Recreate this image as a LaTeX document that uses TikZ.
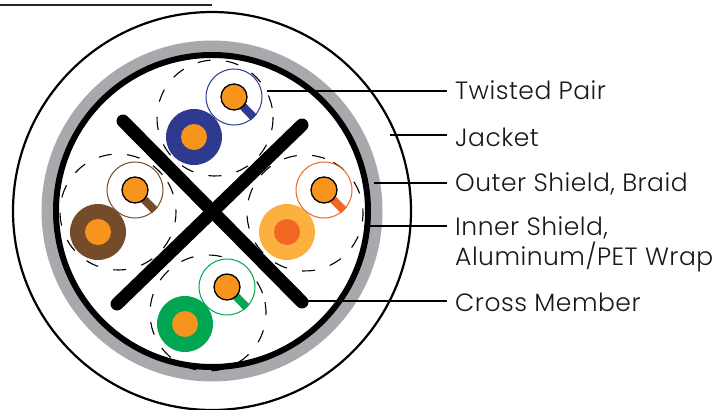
\documentclass[tikz,border=0pt]{standalone}
\usepackage{fontspec}
\setmainfont[LetterSpace=2]{Poppins Light}
\definecolor{pblue}{HTML}{2E3A90}
\definecolor{pbrown}{HTML}{754C29}
\definecolor{pgreen}{HTML}{00A651}
\definecolor{porange}{HTML}{F7941E}
\definecolor{plight}{HTML}{FBB040}
\definecolor{pdark}{HTML}{F26522}
\definecolor{pgray}{HTML}{A7A9AC}
\tikzset{
  ringnode/.style={circle,draw=#1,line width=1pt,fill=white,minimum size=56pt,inner sep=0pt},
  disknode/.style={circle,fill=#1,minimum size=56pt,inner sep=0pt},
  corenode/.style={circle,fill=porange,draw=black,line width=1.3pt,minimum size=26pt,inner sep=0pt},
  innernode/.style={circle,fill=#1,minimum size=26pt,inner sep=0pt},
  dashring/.style={circle,draw=black,line width=1.1pt,dash pattern=on 13pt off 15.5pt,minimum size=116pt,inner sep=0pt},
  tail/.style={draw=#1,line width=8pt},
  leader/.style={draw=black,line width=2.4pt},
  crossbar/.style={draw=black,line width=13pt,line cap=round},
  lbl/.style={anchor=west,inner ysep=0pt,inner xsep=8pt,font=\fontsize{25pt}{30pt}\selectfont,align=left,text=black!90}
}
\newcommand{\cablepair}[8]{%
  % name, dashed centre, ring centre, disk centre, ring colour, disk colour, inner colour, dash rotation
  \node[dashring,rotate=#8] (d#1) at (#2) {};
  \node[disknode=#6] (k#1) at (#4) {};
  \node[innernode=#7] (n#1) at (k#1) {};
  \node[ringnode=#5] (r#1) at (#3) {};
  \draw[tail=#5] (r#1.center) -- (r#1.-46);
  \node[corenode] (c#1) at (r#1) {};
}
\begin{document}
\begin{tikzpicture}[x=1pt,y=-1pt]
\useasboundingbox (0,0) rectangle (727,409);
\fill[white] (0,0) rectangle (727,409);
\coordinate (topL) at (0,5); \coordinate (topR) at (212,5);
\draw[draw=black!85,line width=1.6pt] (topL) -- (topR);
\node[circle,draw=black,line width=2.2pt,fill=white,minimum size=398pt,inner sep=0pt] (jacket) at (212,211) {};
\node[circle,fill=pgray,minimum size=341pt,inner sep=0pt] (braid) at (212,211) {};
\node[circle,fill=white,draw=black,line width=6pt,minimum size=312pt,inner sep=0pt] (wrap) at (212,211) {};
\cablepair{a}{215,118}{234,97}{194,137}{pblue}{pblue}{porange}{10}
\cablepair{b}{118,212}{135,190}{98,232}{pbrown}{pbrown}{porange}{40}
\cablepair{c}{305,213}{324,190}{287,232}{pdark}{plight}{pdark}{70}
\cablepair{d}{208,313}{227,287}{185,324}{pgreen}{pgreen}{porange}{20}
\coordinate (x1) at (123,121); \coordinate (x2) at (302,302);
\coordinate (x3) at (302,125); \coordinate (x4) at (117,304);
\draw[crossbar] (x1) -- (x2);
\draw[crossbar] (x3) -- (x4);
\node[lbl] (l1) at (447,90.5) {Twisted Pair};
\node[lbl] (l2) at (447,137) {Jacket};
\node[lbl] (l3) at (447,183.5) {Outer Shield, Braid};
\node[lbl,anchor=north west] (l4) at (447,216) {Inner Shield,\\Aluminum/PET Wrap};
\node[lbl] (l5) at (447,302) {Cross Member};
\coordinate (e1) at (267,91);
\coordinate (e2) at (390,135);
\coordinate (e3) at (374,183);
\coordinate (e4) at (364,226);
\coordinate (e5) at (303,301);
\draw[leader] (e1) -- (e1 -| l1.west);
\draw[leader] (e2) -- (e2 -| l2.west);
\draw[leader] (e3) -- (e3 -| l3.west);
\draw[leader] (e4) -- (e4 -| l4.west);
\draw[leader] (e5) -- (e5 -| l5.west);
\end{tikzpicture}
\end{document}
